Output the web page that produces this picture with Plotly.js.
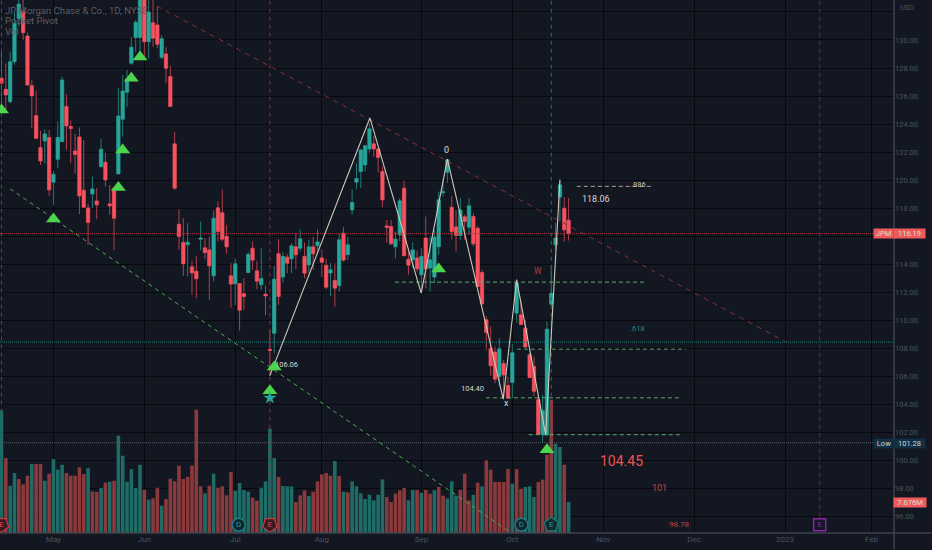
<!DOCTYPE html>
<html>
<head>
<meta charset="utf-8">
<script src="https://cdn.plot.ly/plotly-3.0.1.min.js"></script>
<style>html,body{margin:0;padding:0;background:#131722;overflow:hidden}#chart{width:932px;height:550px}</style>
</head>
<body>
<div id="chart"></div>
<script>
const opens=[127.27,126.48,125.60,128.45,131.54,132.02,130.28,126.74,124.60,122.32,122.80,123.04,119.85,121.49,122.75,125.25,123.82,122.09,123.08,119.28,118.02,119.02,118.52,120.97,121.28,118.31,119.43,120.45,124.34,126.27,128.34,130.17,130.17,134.0,129.88,131.23,131.07,128.76,129.0,127.39,122.59,116.86,115.56,115.39,113.82,113.51,115.79,115.18,115.03,113.18,118.03,117.67,116.0,113.18,112.61,112.63,111.90,113.42,115.15,113.54,112.54,111.87,107.95,109.09,114.75,113.09,114.51,114.39,115.25,115.15,114.56,113.96,115.25,115.32,114.46,113.94,113.39,112.85,112.49,116.22,114.70,117.88,119.86,120.62,121.09,122.23,122.59,122.23,120.62,116.74,116.70,115.25,116.10,119.43,114.37,114.32,114.46,113.25,115.87,113.73,113.09,115.25,119.10,120.57,118.07,116.67,116.06,117.39,116.65,117.41,116.58,113.42,110.04,108.0,107.74,106.0,106.93,105.36,105.58,110.52,110.40,109.45,107.55,106.72,104.34,101.85,101.85,111.16,115.39,118.79,118.0,117.15];
const closes=[126.91,126.08,128.45,131.19,132.56,130.52,126.79,126.01,122.99,121.37,123.30,119.31,120.42,123.04,127.15,123.87,123.68,121.83,118.88,118.07,116.98,119.38,118.24,122.21,120.02,118.17,117.29,124.58,126.36,127.24,129.48,131.26,133.5,129.88,131.99,130.12,129.69,130.09,127.98,125.25,119.43,115.98,114.04,115.58,113.39,112.97,115.87,114.84,113.89,117.29,116.34,115.79,115.25,112.59,114.04,110.73,111.71,114.70,114.30,112.80,112.99,111.75,107.86,112.94,111.71,114.56,114.08,115.32,114.68,115.82,113.37,115.25,114.75,115.60,114.15,112.37,113.61,112.30,115.75,114.30,115.39,118.41,120.12,122.16,122.45,123.66,122.23,121.62,118.60,116.63,115.46,115.79,118.53,114.61,113.94,115.03,113.68,114.56,113.68,114.32,115.94,118.60,119.17,121.45,116.34,116.06,117.88,117.05,118.17,115.46,112.42,111.18,109.14,106.77,105.81,107.98,106.12,104.46,107.69,112.66,109.71,108.10,105.93,104.94,101.89,103.58,109.38,111.94,115.87,119.67,116.46,116.19];
const highs=[129.29,128.34,129.17,132.0,133.2,133.0,130.52,127.15,126.39,123.54,123.63,123.58,120.68,124.18,127.39,126.13,124.25,123.30,123.77,122.87,118.31,120.26,119.43,122.94,121.97,119.66,119.50,126.55,127.50,127.86,130.19,131.42,134.0,134.5,133.2,133.2,132.42,130.36,129.48,128.15,123.42,117.93,117.29,116.93,114.25,114.61,117.05,115.87,115.98,117.84,118.48,119.31,116.82,114.08,114.44,112.63,112.99,114.91,115.63,114.25,115.15,112.49,109.3,113.89,115.79,114.91,114.75,115.51,116.22,116.46,115.56,115.75,115.98,116.51,115.08,114.37,114.08,114.08,116.17,116.65,115.98,119.36,121.21,122.21,122.52,124.06,123.16,122.28,120.97,117.17,117.17,116.34,118.72,119.98,114.91,115.56,114.99,115.15,117.41,115.98,116.46,119.19,120.02,121.50,118.88,117.88,118.72,117.53,118.72,117.65,116.70,113.61,110.28,109.57,108.14,108.74,107.19,106.0,108.33,112.94,111.35,110.04,107.67,107.43,104.58,104.70,109.93,113.85,117.0,120.07,118.79,118.72];
const lows=[125.01,125.01,125.48,128.22,130.95,130.0,126.72,123.70,122.92,121.09,121.21,118.90,118.24,120.85,122.75,122.16,121.21,120.49,117.57,118.0,115.39,118.0,117.22,120.85,119.54,117.53,115.03,120.45,123.11,125.20,128.22,129.17,129.0,128.69,128.69,129.52,129.40,128.62,126.91,125.25,119.31,115.03,113.18,113.13,111.83,111.59,114.99,114.37,111.47,112.78,115.63,115.63,114.75,110.92,111.11,109.28,110.76,113.37,113.61,112.23,112.18,110.38,106.06,107.67,111.11,112.66,113.37,113.37,113.68,114.91,113.01,113.37,113.61,114.91,113.09,112.23,111.71,110.99,112.06,114.20,114.32,117.53,119.36,119.43,120.62,121.92,121.69,120.57,118.08,115.56,115.39,114.44,115.63,114.61,113.25,113.73,113.49,112.18,112.30,112.06,112.66,114.68,118.84,119.79,115.79,114.91,115.75,115.75,116.10,115.27,112.42,111.11,107.91,106.05,105.53,105.29,104.46,104.40,104.46,109.85,109.69,108.02,105.89,104.58,101.85,101.28,101.73,111.11,115.03,117.05,115.63,115.70];
const volumes=[30.36,18.56,11.72,14.85,13.37,12.05,14.19,17.08,17.08,17.08,12.95,14.69,18.32,15.68,16.91,14.85,14.19,14.19,16.25,14.60,16.09,10.31,10.15,11.14,12.46,12.71,12.95,24.09,19.14,12.71,15.84,11.14,16.91,10.73,8.25,8.58,11.22,6.77,8.42,13.45,12.79,16.67,13.37,13.94,16.67,30.53,11.55,9.82,11.72,14.69,11.22,11.55,9.32,15.10,10.48,12.38,10.64,10.23,8.75,8.00,11.22,12.79,25.82,18.56,13.86,11.63,11.55,11.55,7.67,9.32,10.56,9.16,10.23,12.79,14.52,14.85,14.19,17.82,14.11,10.23,10.07,12.79,11.55,9.82,8.42,9.49,8.09,9.49,13.28,8.91,7.67,9.74,10.56,11.14,8.09,10.64,10.64,9.98,10.64,9.74,10.64,11.39,9.24,8.58,12.79,9.24,10.73,14.69,8.09,9.49,12.46,11.55,17.99,15.68,12.62,12.62,12.62,15.84,12.21,15.84,10.97,11.39,11.55,8.91,12.62,13.20,19.39,33.0,22.11,21.29,16.91,7.676];
const volumeDirection="TRTTRRRTRRTRTTTRRRRRTRRTRTRTTTTTTRTRRTRRRRRRRRRTRTRRRRTTTTRRTTTTRTTTRRRTRRRRRTRTRTTTTTTTTRRRRRTTRTRRTRRTTTRRRTRTRRRRRRTRRTTTRRRRTTRTRRR";
const xTickBars=[12,33,54,74,97,118,139,160,181,201];
const xTickLabels=["May","Jun","Jul","Aug","Sep","Oct","Nov","Dec","2023","Feb"];
const priceTicks=[96,98,100,102,104,106,108,110,112,114,116,118,120,122,124,126,128,130,132];
const hiddenTickLabels=[116,132];
const zigzagBars=[62,85.1,96.95,103,115.9,119,125.7,129];
const zigzagPrices=[106.06,124.44,111.95,121.50,104.39,112.89,101.85,120.02];
const upperTrendBars=[35.9,181.2];
const upperTrendPrices=[132.42,108.47];
const lowerTrendBars=[2,117.7];
const lowerTrendPrices=[119.38,94.86];
const signalBars=[0,12,27,28,30,32,63,62,101,126];
const signalPrices=[125.01,117.24,119.47,122.16,127.27,128.79,106.67,104.98,113.66,100.78];
const starBars=[62];
const starPrices=[104.48];
const lastPrice=116.19, lowPrice=101.28, fibPrice=108.45, lastVolume=7.676;
const levelStart=[90.9,111.9,121.8,119.05];
const levelEnd=[148.8,156.8,157,158.1];
const levelPrice=[112.73,104.48,101.85,107.95];
const paleLevelStart=[132.9];
const paleLevelEnd=[150.2];
const paleLevelPrice=[119.56];
const earningsBars=[0,62,127];
const futureEarningsBar=189;
const xMin=-0.346,xMax=206.17,priceMin=94.84,priceMax=132.85,volMax=132;
const badgePrice=95.43;

const bars=opens.map((_,i)=>i);
const volColors=volumes.map((_,i)=>volumeDirection[i]==='T'?'#1f6b66':'#8a3a3c');
const vLine=(x,color)=>({type:'scatter',mode:'lines',x:[x,x],y:[badgePrice,priceMax],yaxis:'y2',line:{color:color,width:1,dash:'4px,4px'},hoverinfo:'skip'});
const hLine=(x0,x1,y,color,dash,w)=>({type:'scatter',mode:'lines',x:[x0,x1],y:[y,y],yaxis:'y2',line:{color:color,width:w||1,dash:dash},hoverinfo:'skip'});

const traces=[
 {type:'bar',x:bars,y:volumes,yaxis:'y',marker:{color:volColors,line:{width:0}},hoverinfo:'skip'},
 {type:'candlestick',x:bars,open:opens,high:highs,low:lows,close:closes,yaxis:'y2',
  increasing:{line:{color:'#26a69a',width:0.7},fillcolor:'#26a69a'},
  decreasing:{line:{color:'#f7525f',width:0.7},fillcolor:'#f7525f'},hoverinfo:'skip'},
 hLine(xMin,xMax,lastPrice,'#a8383f','1px,1px'),
 hLine(xMin,xMax,fibPrice,'#1a8078','1px,1px'),
 hLine(xMin,xMax,lowPrice,'#565a63','1px,1px'),
 vLine(earningsBars[0],'#8e2f3f'),vLine(earningsBars[1],'#8e2f3f'),vLine(earningsBars[2],'#1f6f69'),vLine(futureEarningsBar,'#6a1b8a'),
 {type:'scatter',mode:'lines',x:upperTrendBars,y:upperTrendPrices,yaxis:'y2',line:{color:'#86303f',width:1,dash:'5px,5px'},hoverinfo:'skip'},
 {type:'scatter',mode:'lines',x:lowerTrendBars,y:lowerTrendPrices,yaxis:'y2',line:{color:'#4caf50',width:1,dash:'4px,4px'},hoverinfo:'skip'},
 ...levelPrice.map((p,i)=>hLine(levelStart[i],levelEnd[i],p,'#5fa868','4px,3px')),
 ...paleLevelPrice.map((p,i)=>hLine(paleLevelStart[i],paleLevelEnd[i],p,'#b39c92','4px,3px')),
 {type:'scatter',mode:'lines',x:zigzagBars,y:zigzagPrices,yaxis:'y2',line:{color:'#cfc8b8',width:1.1},hoverinfo:'skip'},
 {type:'scatter',mode:'markers',x:signalBars,y:signalPrices,yaxis:'y2',marker:{symbol:'triangle-up',color:'#4cd44c',size:13,line:{width:0}},hoverinfo:'skip'},
 {type:'scatter',mode:'markers',x:starBars,y:starPrices,yaxis:'y2',marker:{symbol:'star',color:'#26a69a',size:10,line:{width:0}},hoverinfo:'skip'},
 {type:'scatter',mode:'markers+text',x:[earningsBars[0],earningsBars[1]],y:[badgePrice,badgePrice],yaxis:'y2',text:['E','E'],textposition:'middle center',textfont:{size:8,color:'#e04848',family:'Roboto'},
  marker:{symbol:'pentagon',angle:180,size:15,color:'#3a1a22',line:{color:'#c83a3a',width:1.2}},hoverinfo:'skip',cliponaxis:false},
 {type:'scatter',mode:'markers+text',x:[earningsBars[2]],y:[badgePrice],yaxis:'y2',text:['E'],textposition:'middle center',textfont:{size:8,color:'#2a9a90',family:'Roboto'},
  marker:{symbol:'pentagon',size:15,color:'#102a30',line:{color:'#1f7f78',width:1.2}},hoverinfo:'skip'},
 {type:'scatter',mode:'markers+text',x:[54.8,120.1],y:[badgePrice,badgePrice],yaxis:'y2',text:['D','D'],textposition:'middle center',textfont:{size:8,color:'#2a9aa0',family:'Roboto'},
  marker:{symbol:'circle',size:13,color:'#10262e',line:{color:'#1f7f88',width:1.4}},hoverinfo:'skip'},
 {type:'scatter',mode:'markers+text',x:[futureEarningsBar],y:[badgePrice],yaxis:'y2',text:['E'],textposition:'middle center',textfont:{size:8,color:'#8e24aa',family:'Roboto'},
  marker:{symbol:'square',size:12,color:'#131722',line:{color:'#8e24aa',width:1.4}},hoverinfo:'skip'}
];

const fontFam='Roboto, Arial, sans-serif';
const lab=(text,x,y,color,size,extra)=>Object.assign({text:text,x:x,y:y,xref:'x',yref:'y2',showarrow:false,font:{family:fontFam,size:size,color:color},xanchor:'center',yanchor:'middle'},extra||{});
const legendLab=(text,py)=>({text:text,x:3.5/894.5,y:1-py/533.3,xref:'paper',yref:'paper',xanchor:'left',yanchor:'middle',showarrow:false,font:{family:fontFam,size:9.5,color:'#5b5e68'}});
const tag=(text,x0,py,w,bg,color)=>({text:text,x:(x0+w/2)/894.5,y:1-py/533.3,xref:'paper',yref:'paper',xanchor:'center',yanchor:'middle',showarrow:false,width:w,height:9,borderpad:0,bgcolor:bg,font:{family:fontFam,size:7.5,color:color}});

const annotations=[
 legendLab('JP Morgan Chase &amp; Co., 1D, NYSE',10.7),
 legendLab('Pocket Pivot',21),
 legendLab('Vol',32),
 {text:'USD',x:908/894.5,y:1-7.5/533.3,xref:'paper',yref:'paper',showarrow:false,xanchor:'center',yanchor:'middle',font:{family:fontFam,size:7.5,color:'#4e525c'}},
 lab('0',102.7,122.16,'#d8d8d0',9),
 lab('106.06',65.9,106.86,'#d8d8d0',7.5),
 lab('104.40',108.8,105.15,'#d8d8d0',7.5),
 lab('x',116.7,104.1,'#d8d8d0',9),
 lab('W',124,113.54,'#b23a3a',8.5),
 lab('118.06',137.3,118.69,'#d8d8d0',9),
 lab('.886',147.2,119.67,'#c8c8b8',7.5),
 lab('.618',147,109.4,'#1f8a80',7.5),
 lab('104.45',143.3,99.99,'#ef5350',14),
 lab('101',152.1,98.05,'#c94444',9),
 lab('98.78',156.7,95.48,'#c94444',8),
 tag('JPM',874,234,19,'#f05a5f','#c9e3c0'),
 tag('116.19',895,234,31,'#f05a5f','#c9e3c0'),
 tag('Low',874,443.3,20,'#132f45','#c9d8d0'),
 tag('101.28',895,443.3,31,'#132f45','#c9d8d0'),
 tag('7.676M',895,502.5,32,'#f05a5f','#c9e3c0')
];

const layout={
 width:932,height:550,margin:{l:0,r:37.5,t:0,b:16.7,pad:0},
 paper_bgcolor:'#131722',plot_bgcolor:'#131722',showlegend:false,bargap:0.17,boxgap:0.12,boxgroupgap:0.12,hovermode:false,dragmode:false,
 font:{family:fontFam,size:8,color:'#4e525c'},
 xaxis:{range:[xMin,xMax],tickmode:'array',tickvals:xTickBars,ticktext:xTickLabels,showgrid:true,gridcolor:'#07090e',gridwidth:1,zeroline:false,ticks:'',
  showline:false,tickfont:{family:fontFam,size:8,color:'#4e525c'},rangeslider:{visible:false},fixedrange:true},
 yaxis:{range:[0,volMax],visible:false,showgrid:false,zeroline:false,fixedrange:true},
 yaxis2:{range:[priceMin,priceMax],overlaying:'y',side:'right',tickmode:'array',tickvals:priceTicks,ticktext:priceTicks.map(v=>hiddenTickLabels.includes(v)?'':v.toFixed(2)),
  showgrid:true,gridcolor:'#07090e',gridwidth:1,zeroline:false,ticks:'',showline:false,tickfont:{family:fontFam,size:7.5,color:'#4e525c'},fixedrange:true},
 shapes:[
  {type:'line',xref:'paper',yref:'paper',x0:0,x1:932/894.5,y0:0,y1:0,line:{color:'#3f434e',width:1.5}},
  {type:'line',xref:'paper',yref:'paper',x0:1,x1:1,y0:-16.7/533.3,y1:1,line:{color:'#3f434e',width:1.5}}
 ],
 annotations:annotations
};
Plotly.newPlot('chart',traces,layout,{staticPlot:true,displayModeBar:false});
</script>
</body>
</html>
